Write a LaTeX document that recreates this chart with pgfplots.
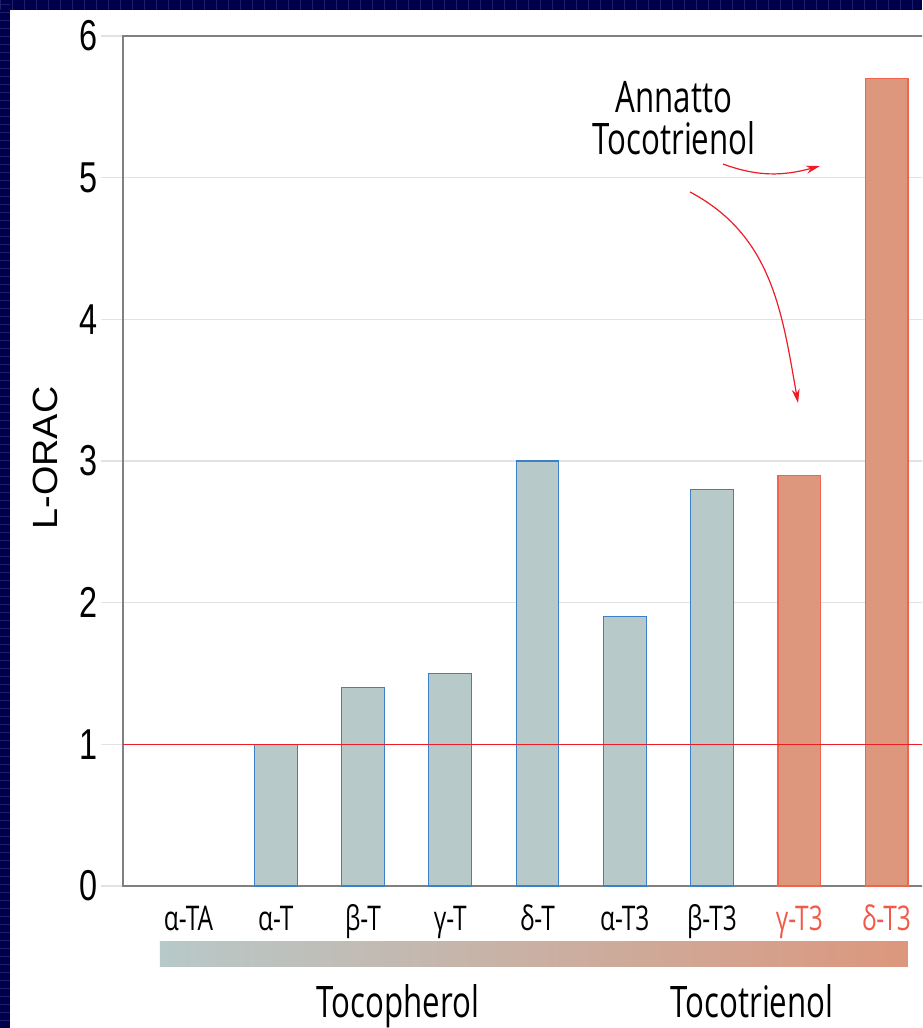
\documentclass[border=0pt]{standalone}
\usepackage{pgfplots}
\pgfplotsset{compat=1.18}
\usetikzlibrary{arrows.meta}
\usepackage{fontspec}
\setmainfont{Open Sans}
\newfontfamily\tickfont[FakeStretch=0.75]{Liberation Sans}
\newfontfamily\labfont[FakeStretch=0.72]{Open Sans}
\newfontfamily\ylabfont[FakeStretch=1.08]{Liberation Sans}
\definecolor{navy}{HTML}{00004A}
\definecolor{stripe}{HTML}{1E1E6E}
\definecolor{barfill}{HTML}{B7C9C9}
\definecolor{baredge}{HTML}{3C80C8}
\definecolor{salfill}{HTML}{DC977D}
\definecolor{saledge}{HTML}{EE6650}
\definecolor{linered}{HTML}{EE1C25}
\definecolor{lblred}{HTML}{F25A48}
\definecolor{axisgray}{HTML}{808080}
\definecolor{gridgray}{HTML}{E2E2E2}
\begin{document}
\begin{tikzpicture}
\useasboundingbox (0,0) rectangle (461pt,514pt);
\fill[navy] (0,0) rectangle (461pt,514pt);
\foreach \i in {0,...,128} {\draw[stripe,line width=0.3pt] (0,\i*4pt) -- (5pt,\i*4pt);}
\foreach \i in {0,...,77} {\draw[stripe,line width=0.3pt] (\i*6pt,509pt) -- (\i*6pt,514pt);}
\fill[white] (5pt,0) rectangle (461pt,509pt);
\clip (5pt,0) rectangle (461pt,509pt);
\begin{axis}[
  at={(61.5pt,71pt)}, anchor=south west,
  scale only axis, width=408.5pt, height=425pt,
  xmin=-0.7507, xmax=8.613, ymin=0, ymax=6,
  ytick={0,1,2,3,4,5,6},
  xtick={0,1,2,3,4,5,6,7,8},
  xticklabels={α-TA,α-T,β-T,γ-T,δ-T,α-T3,β-T3,\textcolor{lblred}{γ-T3},\textcolor{lblred}{δ-T3}},
  axis line style={color=axisgray, line width=0.9pt},
  ymajorgrids, major grid style={gridgray, line width=0.6pt},
  tick align=outside, major tick length=11pt,
  ytick style={gridgray, line width=0.6pt},
  xtick style={draw=none},
  /pgf/number format/assume math mode=true,
  yticklabel style={font=\tickfont\fontsize{21.6}{24}\selectfont, anchor=east, inner sep=0pt, xshift=-1.5pt},
  xticklabel style={font=\labfont\fontsize{17}{18}\selectfont, anchor=base, inner sep=0pt, yshift=-11.5pt},
  ylabel={L-ORAC},
  ylabel style={font=\ylabfont\fontsize{17.5}{18}\selectfont, at={(axis description cs:-0.0955,0.5035)}, anchor=center, rotate=0},
  clip=false,
]
\addplot[ybar, bar width=0.49, bar shift=0pt, fill=barfill, draw=baredge, line width=0.6pt]
  coordinates {(1,1.0) (2,1.4) (3,1.5) (4,3.0) (5,1.9) (6,2.8)};
\addplot[ybar, bar width=0.49, bar shift=0pt, fill=salfill, draw=saledge, line width=0.6pt]
  coordinates {(7,2.9) (8,5.7)};
\addplot[linered, line width=0.6pt] coordinates {(-0.7507,1) (8.613,1)};
\draw[axisgray, line width=0.9pt] (axis cs:-0.7507,0) -- ++(-11pt,0);
\draw[axisgray, line width=0.9pt] (axis cs:-0.7507,6) -- ++(-11pt,0);
\shade[left color=barfill, right color=salfill] (axis cs:-0.327,-0.395) rectangle (axis cs:8.246,-0.565);
\node[font=\labfont\fontsize{21.7}{22}\selectfont, anchor=base, inner sep=0pt] at (axis cs:2.401,-0.925) {Tocopherol};
\node[font=\labfont\fontsize{21.7}{22}\selectfont, anchor=base, inner sep=0pt] at (axis cs:6.458,-0.925) {Tocotrienol};
\node[font=\labfont\fontsize{21.7}{22}\selectfont, anchor=base, inner sep=0pt] at (axis cs:5.564,5.463) {Annatto};
\node[font=\labfont\fontsize{21.7}{22}\selectfont, anchor=base, inner sep=0pt] at (axis cs:5.564,5.160) {Tocotrienol};
\draw[linered, line width=0.6pt, -{Stealth[length=7pt,width=4pt]}] (axis cs:6.126,5.096) to[out=-20,in=195] (axis cs:7.237,5.082);
\draw[linered, line width=0.6pt, -{Stealth[length=7pt,width=4pt]}] (axis cs:5.748,4.899) to[out=-28,in=100] (axis cs:6.986,3.409);
\end{axis}
\end{tikzpicture}
\end{document}
